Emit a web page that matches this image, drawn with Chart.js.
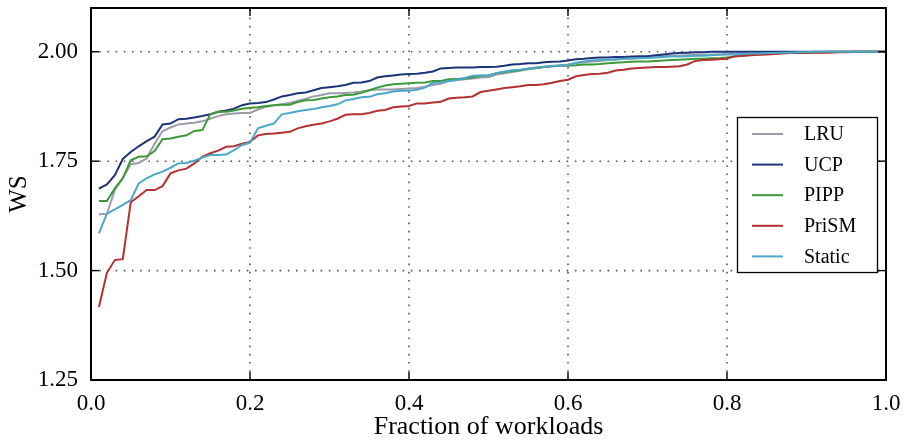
<!DOCTYPE html>
<html><head><meta charset="utf-8">
<script src="https://cdn.jsdelivr.net/npm/chart.js@4.4.1/dist/chart.umd.min.js"></script>
<style>html,body{margin:0;padding:0;background:#fff;}#wrap{width:907px;height:441px;}</style>
</head><body><div id="wrap"><canvas id="c" width="907" height="441"></canvas></div>
<script>
const fractions = [0.01,0.02,0.03,0.04,0.05,0.06,0.07,0.08,0.09,0.10,
0.11,0.12,0.13,0.14,0.15,0.16,0.17,0.18,0.19,0.20,
0.21,0.22,0.23,0.24,0.25,0.26,0.27,0.28,0.29,0.30,
0.31,0.32,0.33,0.34,0.35,0.36,0.37,0.38,0.39,0.40,
0.41,0.42,0.43,0.44,0.45,0.46,0.47,0.48,0.49,0.50,
0.51,0.52,0.53,0.54,0.55,0.56,0.57,0.58,0.59,0.60,
0.61,0.62,0.63,0.64,0.65,0.66,0.67,0.68,0.69,0.70,
0.71,0.72,0.73,0.74,0.75,0.76,0.77,0.78,0.79,0.80,
0.81,0.82,0.83,0.84,0.85,0.86,0.87,0.88,0.89,0.90,
0.91,0.92,0.93,0.94,0.95,0.96,0.97,0.98,0.99,1.00];

const lru = [1.629,1.630,1.684,1.711,1.743,1.746,1.756,1.790,1.819,1.827,
1.834,1.836,1.838,1.841,1.847,1.853,1.857,1.859,1.860,1.860,
1.868,1.874,1.878,1.880,1.883,1.888,1.893,1.898,1.901,1.905,
1.905,1.906,1.907,1.909,1.912,1.914,1.914,1.914,1.915,1.916,
1.917,1.920,1.924,1.927,1.933,1.935,1.937,1.939,1.941,1.942,
1.948,1.951,1.954,1.957,1.960,1.963,1.965,1.967,1.969,1.971,
1.974,1.976,1.978,1.979,1.981,1.982,1.984,1.985,1.987,1.988,
1.989,1.990,1.991,1.991,1.992,1.993,1.993,1.994,1.994,1.995,
1.995,1.996,1.996,1.997,1.997,1.998,1.998,1.998,1.999,1.999,
1.999,1.999,2.000,2.000,2.000,2.000,2.000,2.000,2.000,2.000];

const ucp = [1.687,1.697,1.718,1.755,1.771,1.784,1.796,1.806,1.834,1.836,
1.846,1.847,1.850,1.853,1.857,1.863,1.866,1.870,1.878,1.882,
1.883,1.885,1.891,1.898,1.901,1.905,1.907,1.912,1.917,1.919,
1.921,1.924,1.929,1.930,1.933,1.941,1.944,1.946,1.948,1.949,
1.950,1.952,1.955,1.962,1.963,1.964,1.964,1.964,1.965,1.965,
1.966,1.968,1.971,1.972,1.974,1.974,1.976,1.977,1.978,1.980,
1.983,1.984,1.986,1.987,1.987,1.988,1.988,1.989,1.990,1.990,
1.992,1.994,1.996,1.997,1.998,1.999,1.999,2.000,2.000,2.000,
2.000,2.000,2.000,2.000,2.000,2.000,2.000,2.000,2.000,2.000,
2.000,2.000,2.000,2.000,2.000,2.000,2.000,2.000,2.000,2.000];

const pipp = [1.659,1.659,1.688,1.711,1.752,1.760,1.761,1.773,1.800,1.802,
1.806,1.809,1.819,1.821,1.857,1.863,1.863,1.866,1.870,1.872,
1.873,1.876,1.878,1.879,1.879,1.885,1.889,1.890,1.893,1.896,
1.898,1.901,1.902,1.906,1.912,1.918,1.923,1.926,1.927,1.928,
1.929,1.930,1.933,1.933,1.937,1.938,1.939,1.942,1.945,1.946,
1.951,1.954,1.956,1.958,1.961,1.963,1.965,1.967,1.968,1.968,
1.969,1.971,1.971,1.972,1.974,1.975,1.976,1.977,1.978,1.978,
1.979,1.980,1.981,1.982,1.983,1.984,1.984,1.985,1.985,1.987,
1.989,1.991,1.993,1.994,1.995,1.996,1.997,1.998,1.998,1.999,
1.999,1.999,2.000,2.000,2.000,2.000,2.000,2.000,2.000,2.000];

const prism = [1.417,1.495,1.524,1.526,1.656,1.670,1.684,1.684,1.693,1.722,
1.729,1.733,1.745,1.760,1.768,1.774,1.783,1.784,1.790,1.794,
1.809,1.812,1.813,1.815,1.817,1.825,1.830,1.833,1.836,1.841,
1.847,1.856,1.857,1.857,1.860,1.865,1.867,1.873,1.875,1.876,
1.882,1.882,1.884,1.886,1.893,1.895,1.896,1.898,1.908,1.911,
1.914,1.917,1.919,1.921,1.924,1.924,1.926,1.929,1.933,1.936,
1.944,1.947,1.949,1.950,1.952,1.957,1.959,1.962,1.963,1.964,
1.965,1.965,1.966,1.967,1.971,1.979,1.981,1.982,1.983,1.984,
1.990,1.991,1.992,1.993,1.994,1.995,1.996,1.997,1.997,1.997,
1.998,1.998,1.998,1.999,1.999,2.000,2.000,2.000,2.000,2.000];

const staticWs = [1.585,1.630,1.640,1.650,1.661,1.699,1.711,1.720,1.726,1.735,
1.745,1.746,1.751,1.758,1.764,1.764,1.765,1.775,1.787,1.792,
1.825,1.831,1.836,1.857,1.860,1.864,1.867,1.869,1.873,1.876,
1.880,1.889,1.892,1.896,1.897,1.903,1.905,1.909,1.911,1.911,
1.913,1.918,1.929,1.930,1.933,1.936,1.940,1.945,1.946,1.946,
1.951,1.955,1.958,1.959,1.962,1.964,1.966,1.968,1.968,1.970,
1.975,1.978,1.980,1.981,1.981,1.983,1.984,1.984,1.985,1.986,
1.987,1.988,1.989,1.989,1.990,1.991,1.991,1.992,1.993,1.994,
1.994,1.995,1.996,1.996,1.997,1.997,1.998,1.998,1.999,1.999,
2.000,2.000,2.000,2.000,2.000,2.000,2.000,2.000,2.000,2.000];

const seriesNames = ["LRU","UCP","PIPP","PriSM","Static"];
const seriesValues = [lru, ucp, pipp, prism, staticWs];
const seriesColors = ["#9d9cab","#1c3479","#3c9a36","#b53131","#4ba8c8"];
const xTicks = [0.0,0.2,0.4,0.6,0.8,1.0];
const yTicks = [1.25,1.50,1.75,2.00];
const xTitle = "Fraction of workloads";
const yTitle = "WS";

const FONT = "'Liberation Serif','Times New Roman',serif";

const framePlugin = {
  id: 'frame',
  beforeDatasetsDraw(chart) {
    const {ctx, chartArea: a, scales: {x, y}} = chart;
    ctx.save();
    ctx.strokeStyle = '#555';
    ctx.lineWidth = 1.6;
    ctx.setLineDash([1.6, 6.6]);
    xTicks.forEach(v => {
      const px = x.getPixelForValue(v);
      if (px <= a.left + 1 || px >= a.right - 1) return;
      ctx.beginPath(); ctx.moveTo(px, a.bottom); ctx.lineTo(px, a.top); ctx.stroke();
    });
    yTicks.forEach(v => {
      const py = y.getPixelForValue(v);
      if (py <= a.top + 1 || py >= a.bottom - 1) return;
      ctx.beginPath(); ctx.moveTo(a.left, py); ctx.lineTo(a.right, py); ctx.stroke();
    });
    ctx.restore();
  },
  afterDatasetsDraw(chart) {
    const {ctx, chartArea: a, scales: {x, y}} = chart;
    ctx.save();
    ctx.setLineDash([]);
    ctx.strokeStyle = '#000';
    ctx.lineWidth = 1.4;
    const L = 8;
    xTicks.forEach(v => {
      const px = x.getPixelForValue(v);
      ctx.beginPath(); ctx.moveTo(px, a.bottom); ctx.lineTo(px, a.bottom - L); ctx.stroke();
      ctx.beginPath(); ctx.moveTo(px, a.top); ctx.lineTo(px, a.top + L); ctx.stroke();
    });
    yTicks.forEach(v => {
      const py = y.getPixelForValue(v);
      ctx.beginPath(); ctx.moveTo(a.left, py); ctx.lineTo(a.left + L, py); ctx.stroke();
      ctx.beginPath(); ctx.moveTo(a.right, py); ctx.lineTo(a.right - L, py); ctx.stroke();
    });
    ctx.lineWidth = 2;
    ctx.strokeRect(a.left, a.top, a.right - a.left, a.bottom - a.top);
    ctx.restore();
  },
  afterDraw(chart) {
    const {ctx} = chart;
    const bx = 737, by = 117, bw = 140, bh = 155;
    ctx.save();
    ctx.fillStyle = '#fff';
    ctx.fillRect(bx, by, bw, bh);
    ctx.strokeStyle = '#000';
    ctx.lineWidth = 1.3;
    ctx.strokeRect(bx + 0.5, by + 0.5, bw, bh);
    ctx.font = "20px " + FONT;
    ctx.textBaseline = 'middle';
    ctx.textAlign = 'left';
    chart.data.datasets.forEach((ds, i) => {
      const yy = by + 17 + i * 30.6;
      ctx.strokeStyle = ds.borderColor;
      ctx.lineWidth = 2;
      ctx.beginPath(); ctx.moveTo(752, yy); ctx.lineTo(783, yy); ctx.stroke();
      ctx.fillStyle = '#000';
      ctx.fillText(ds.label, 804, yy + 1);
    });
    ctx.restore();
  }
};

new Chart(document.getElementById('c'), {
  type: 'line',
  data: {
    datasets: seriesNames.map((name, k) => ({
      label: name,
      data: fractions.map((fx, i) => ({x: fx, y: seriesValues[k][i]})),
      borderColor: seriesColors[k],
      backgroundColor: seriesColors[k],
      borderWidth: 2,
      pointRadius: 0,
      fill: false,
      tension: 0,
      order: seriesNames.length - k
    }))
  },
  options: {
    responsive: false,
    animation: false,
    devicePixelRatio: 1,
    layout: {padding: {left: 0, right: 21, top: 8, bottom: 0}},
    plugins: {legend: {display: false}, tooltip: {enabled: false}},
    scales: {
      x: {
        type: 'linear', min: 0, max: 1,
        afterBuildTicks: s => { s.ticks = xTicks.map(v => ({value: v})); },
        afterFit: s => { s.height = 61; s.paddingLeft = 0; s.paddingRight = 0; },
        grid: {display: false, drawTicks: false},
        border: {display: false},
        ticks: {font: {family: FONT, size: 23}, color: '#000', padding: 10, maxRotation: 0, autoSkip: false,
                callback: v => Number(v).toFixed(1)},
        title: {display: true, text: xTitle, font: {family: FONT, size: 26}, color: '#000', padding: {top: 0, bottom: -2}}
      },
      y: {
        type: 'linear', min: 1.25, max: 2.1,
        afterBuildTicks: s => { s.ticks = yTicks.map(v => ({value: v})); },
        afterFit: s => { s.width = 91; s.paddingTop = 0; s.paddingBottom = 0; },
        grid: {display: false, drawTicks: false},
        border: {display: false},
        ticks: {font: {family: FONT, size: 23}, color: '#000', padding: 13, autoSkip: false,
                callback: v => Number(v).toFixed(2)},
        title: {display: true, text: yTitle, font: {family: FONT, size: 25}, color: '#000', padding: {top: 4, bottom: 0}}
      }
    }
  },
  plugins: [framePlugin]
});
</script>
</body></html>
